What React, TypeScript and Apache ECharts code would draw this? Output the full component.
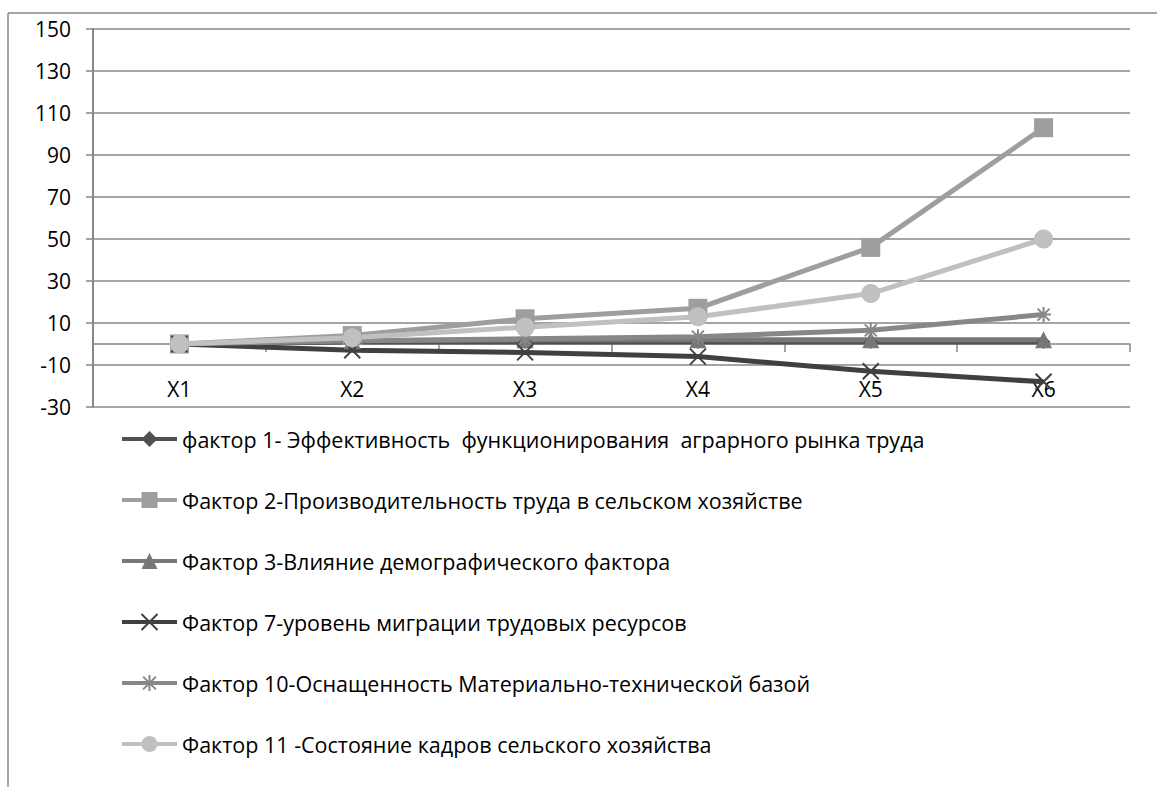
import React, { useEffect, useRef } from "react";
import * as echarts from "echarts";

const categories = ["X1", "X2", "X3", "X4", "X5", "X6"];
const seriesNames = [
  "фактор 1- Эффективность  функционирования  аграрного рынка труда",
  "Фактор 2-Производительность труда в сельском хозяйстве",
  "Фактор 3-Влияние демографического фактора",
  "Фактор 7-уровень миграции трудовых ресурсов",
  "Фактор 10-Оснащенность Материально-технической базой",
  "Фактор 11 -Состояние кадров сельского хозяйства",
];
const factor1 = [0, 1, 1, 1, 1, 1];
const factor2 = [0, 4, 12, 17, 46, 103];
const factor3 = [0, 1.5, 2, 2, 2, 2];
const factor7 = [0, -3, -4, -6, -13, -18];
const factor10 = [0, 1.5, 2.5, 3.5, 6.5, 14];
const factor11 = [0, 3, 8, 13, 24, 50];
const yMin = -30;
const yMax = 150;
const yStep = 20;

const FONT = "Open Sans";

export default function App() {
  const ref = useRef<HTMLDivElement>(null);
  useEffect(() => {
    document.body.style.margin = "0";
    const chart = echarts.init(ref.current!, null, { renderer: "svg" });
    const mk = (
      name: string,
      data: number[],
      color: string,
      symbol: string,
      size: number,
      stroke?: boolean
    ) => ({
      name,
      type: "line",
      data,
      symbol,
      symbolSize: size,
      showAllSymbol: true,
      lineStyle: { color, width: 5 },
      itemStyle: stroke
        ? { color: "rgba(0,0,0,0)", borderColor: color, borderWidth: 2 }
        : { color, borderWidth: 0 },
      emphasis: { disabled: true },
    });
    const xPath = "path://M0,0L10,10M10,0L0,10";
    const starPath = "path://M5,0L5,10M1,1L9,9M9,1L1,9M0,5L10,5";
    chart.setOption({
      animation: false,
      graphic: [
        { type: "line", shape: { x1: 8, y1: 13, x2: 1157, y2: 13 }, style: { stroke: "#868686", lineWidth: 1.5 } },
        { type: "line", shape: { x1: 8, y1: 13, x2: 8, y2: 787 }, style: { stroke: "#868686", lineWidth: 1.5 } },
      ],
      grid: { left: 93, right: 27, top: 29, bottom: 380, containLabel: false },
      xAxis: {
        type: "category",
        data: categories,
        boundaryGap: true,
        axisLine: { onZero: true, lineStyle: { color: "#868686", width: 1.5 } },
        axisTick: { show: true, length: 8, alignWithLabel: false, lineStyle: { color: "#868686", width: 1.5 } },
        axisLabel: { color: "#000", fontFamily: FONT, fontSize: 21, margin: -29 },
        splitLine: { show: false },
      },
      yAxis: {
        type: "value",
        min: yMin,
        max: yMax,
        interval: yStep,
        axisLine: { show: true, lineStyle: { color: "#868686", width: 2 } },
        axisTick: { show: true, length: 7, lineStyle: { color: "#868686", width: 1.5 } },
        axisLabel: { color: "#000", fontFamily: FONT, fontSize: 21, margin: 22 },
        splitLine: { show: true, lineStyle: { color: "#868686", width: 1.5 } },
      },
      legend: {
        orient: "vertical",
        left: 115,
        top: 423,
        padding: 5,
        itemWidth: 55,
        itemHeight: 20,
        itemGap: 39,
        lineStyle: { width: 4 },
        textStyle: { color: "#000", fontFamily: FONT, fontSize: 21.5, lineHeight: 22 },
        data: seriesNames,
      },
      series: [
        mk(seriesNames[0], factor1, "#505050", "diamond", 14),
        mk(seriesNames[1], factor2, "#9e9e9e", "rect", 19),
        mk(seriesNames[2], factor3, "#777777", "triangle", 17),
        mk(seriesNames[3], factor7, "#404040", xPath, 16, true),
        mk(seriesNames[4], factor10, "#878787", starPath, 15, true),
        mk(seriesNames[5], factor11, "#c0c0c0", "circle", 19),
      ],
    });
    return () => chart.dispose();
  }, []);
  return <div ref={ref} style={{ width: 1157, height: 787 }} />;
}
